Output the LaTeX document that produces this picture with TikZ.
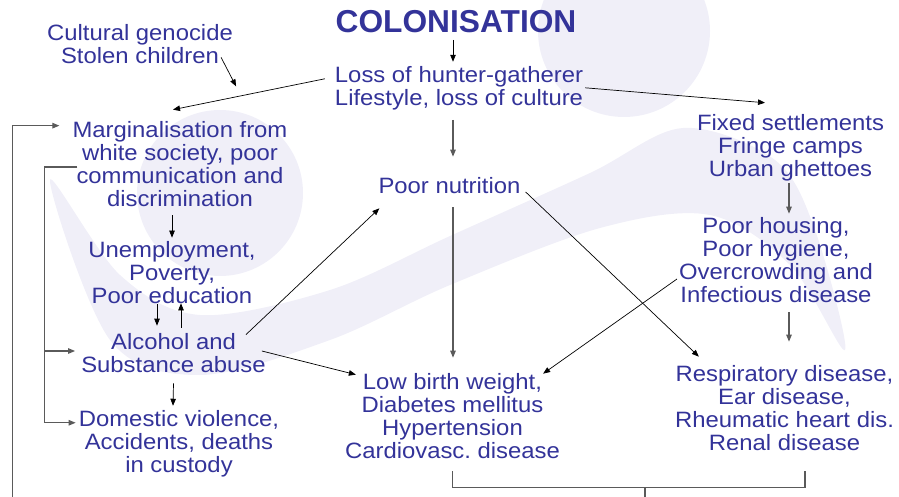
\documentclass[tikz,border=0pt]{standalone}
\usepackage{fontspec}
\setmainfont{Liberation Sans}[FakeStretch=1.075]
\newfontfamily\titlefont{Liberation Sans}
\usepackage{tikz}
\usetikzlibrary{arrows.meta, positioning, calc}
\definecolor{TextBlue}{RGB}{51,51,153}
\definecolor{LineGray}{RGB}{90,90,90}
\definecolor{Watermark}{RGB}{240,239,248}
\frenchspacing

\begin{document}
\begin{tikzpicture}[x=1pt, y=-1pt,
  txt/.style={text=TextBlue, align=center, inner sep=0pt,
              font=\fontsize{22.2}{23}\selectfont},
  arr/.style={-{Triangle[length=7pt,width=5.5pt]}, line width=0.7pt},
  garr/.style={arr, draw=LineGray, line width=1.1pt},
  gline/.style={draw=LineGray, line width=1.2pt},
]
\useasboundingbox (0,0) rectangle (899,497);

\fill[Watermark] (624,31) circle (86pt);
\fill[Watermark] (220,193) circle (83pt);
\fill[Watermark] plot[smooth cycle, tension=0.55] coordinates {(50,180) (110,340)
  (200,375) (330,340) (450,285) (600,228) (710,215) (790,265) (845,350)
  (815,230) (775,160) (683,128) (590,173) (450,236) (330,290) (200,315) (120,275)};

\node[font=\titlefont\bfseries\fontsize{31.7}{32}\selectfont, text=TextBlue,
      inner sep=0pt] (title) at (456,21.5) {COLONISATION};
\node[txt] (genocide) at (140,44.5) {Cultural genocide\\Stolen children};
\node[txt] (loss) at (459,87.8) {Loss of hunter-gatherer\\Lifestyle, loss of culture};
\node[txt] (marg) at (180,164.5) {Marginalisation from\\white society, poor\\communication and\\discrimination};
\node[txt] (unemp) at (172,273) {Unemployment,\\Poverty,\\Poor education};
\node[txt] (alcohol) at (173.5,353.5) {Alcohol and\\Substance abuse};
\node[txt] (domestic) at (179,443.3) {Domestic violence,\\Accidents, deaths\\in custody};
\node[txt] (nutrition) at (449.5,186) {Poor nutrition};
\node[txt] (settle) at (790.5,147.3) {Fixed settlements\\Fringe camps\\Urban ghettoes};
\node[txt] (housing) at (776,260.5) {Poor housing,\\Poor hygiene,\\Overcrowding and\\Infectious disease};
\node[txt] (lowbirth) at (452.5,416.5) {Low birth weight,\\Diabetes mellitus\\Hypertension\\Cardiovasc. disease};
\node[txt] (resp) at (784.5,408.5) {Respiratory disease,\\Ear disease,\\Rheumatic heart dis.\\Renal disease};

\draw[arr] ([xshift=-3pt,yshift=-7pt]title.south) -- ([xshift=-6pt,yshift=4pt]loss.north);
\draw[arr] ([xshift=-10pt,yshift=9pt]loss.west) -- ([xshift=-7pt,yshift=12pt]marg.north);
\draw[arr] ([xshift=-12pt,yshift=7pt]genocide.south east) -- ([xshift=3pt,yshift=-22pt]genocide.south east);
\draw[arr] ([xshift=2pt]loss.east) -- ([xshift=-25.5pt,yshift=11pt]settle.north);
\draw[garr] ([xshift=-6pt,yshift=-10pt]loss.south) -- ([xshift=3.5pt,yshift=21pt]nutrition.north);
\draw[arr] ([xshift=-8pt,yshift=-8pt]marg.south) -- ([yshift=4pt]unemp.north);
\draw[arr] ([xshift=-15pt]unemp.south) -- ([xshift=-16.5pt,yshift=8pt]alcohol.north);
\draw[arr] ([xshift=7.5pt,yshift=6pt]alcohol.north) -- ([xshift=9pt,yshift=1pt]unemp.south);
\draw[arr] ([xshift=-20pt,yshift=-1pt]alcohol.north east) -- ([xshift=1pt,yshift=-14pt]nutrition.south west);
\draw[arr] ([xshift=-4pt,yshift=2.5pt]alcohol.east) -- ([xshift=11pt,yshift=-1pt]lowbirth.north west);
\draw[arr] ([yshift=-10pt]alcohol.south) -- ([xshift=-6pt,yshift=4pt]domestic.north);
\draw[garr] ([xshift=3.5pt,yshift=-13pt]nutrition.south) -- ([xshift=0.5pt,yshift=16pt]lowbirth.north);
\draw[arr] ([xshift=5pt,yshift=-6pt]nutrition.east) -- ([xshift=24pt,yshift=9pt]resp.north west);
\draw[garr] ([xshift=-1.5pt,yshift=-2pt]settle.south) -- ([xshift=13pt,yshift=4pt]housing.north);
\draw[arr] ([xshift=-2pt,yshift=-18.5pt]housing.west) -- ([xshift=-17pt]lowbirth.north east);
\draw[garr] ([xshift=13pt,yshift=-9pt]housing.south) -- ([xshift=4.5pt,yshift=24pt]resp.north);

\coordinate (loopfoot) at (12.5,497);
\draw[garr] (loopfoot) |- ([xshift=-13pt,yshift=-4pt]marg.north west);
\draw[garr] ([xshift=5pt,yshift=-2.5pt]marg.west) -- ++(-33,0) coordinate (bend)
  |- ([xshift=-3pt,yshift=-13pt]domestic.north west);
\coordinate (alcin) at ([xshift=-6pt,yshift=2.5pt]alcohol.west);
\draw[garr] (bend |- alcin) -- (alcin);

\draw[gline] ([yshift=-12pt]lowbirth.south) -- ++(0,16) -| ([xshift=20.5pt,yshift=-20pt]resp.south);
\coordinate (bracketfoot) at (645,497);
\draw[gline] (bracketfoot) -- ++(0,-10);
\end{tikzpicture}
\end{document}
